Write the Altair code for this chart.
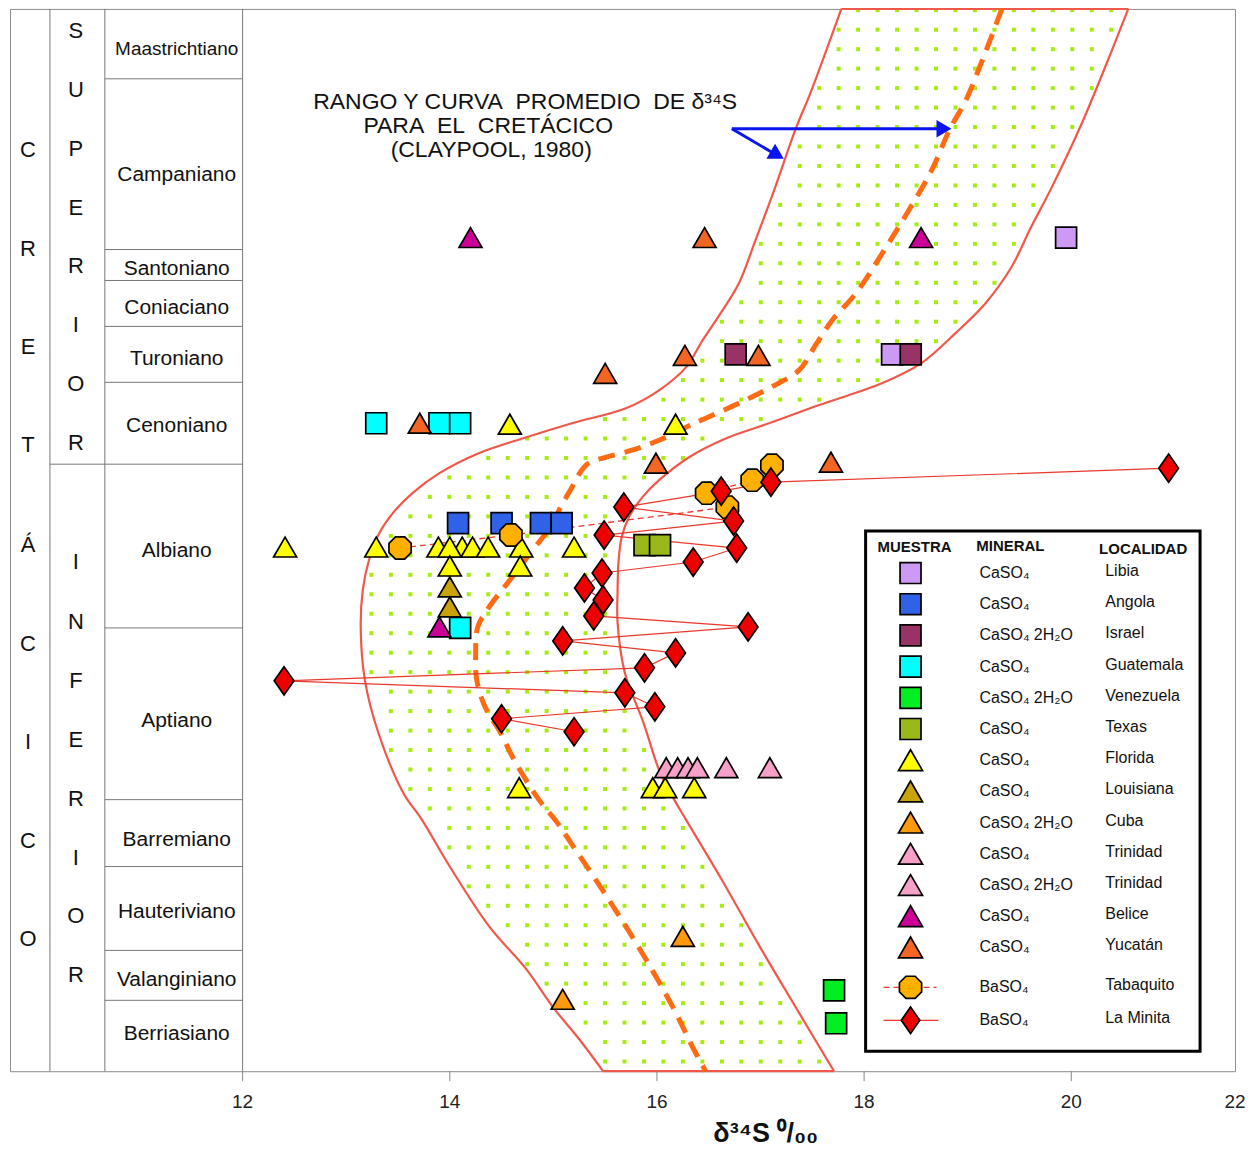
import altair as alt
import numpy as np
import pandas as pd

# ---------------- data ----------------
# stratigraphic column (pos = height in the column, 0 = base, 1064 = top)
STAGES = ["Maastrichtiano", "Campaniano", "Santoniano", "Coniaciano", "Turoniano",
          "Cenoniano", "Albiano", "Aptiano", "Barremiano", "Hauteriviano",
          "Valanginiano", "Berriasiano"]
STAGE_LABEL_POS = [1024, 898, 803, 764, 713, 646, 521, 351, 232, 159, 91, 37]
STAGE_BOUNDS = [994, 823, 792, 746, 690, 608, 444, 272, 205, 121, 71]
SERIES_BOUND = 608
SYSTEM_LETTERS = list("CRETÁCICO")
SYSTEM_POS = [923, 824, 725, 627, 527, 428, 330, 231, 132]
UPPER_LETTERS = list("SUPERIOR")
UPPER_POS = [1042, 983, 924, 865, 806, 747, 688, 629]
LOWER_LETTERS = list("INFERIOR")
LOWER_POS = [510, 450, 391, 332, 273, 214, 155, 96]

# x-axis tick values (permil)
TICKS = [12, 14, 16, 18, 20, 22]

# Claypool (1980) range and mean curve
BAND_LEFT_X = [17.78, 17.49, 17.34, 17.13, 16.95, 16.79, 16.62, 16.44, 16.28, 16.02,
               15.70, 15.18, 14.74, 14.28, 13.90, 13.64, 13.45, 13.32, 13.22, 13.16,
               13.14, 13.18, 13.31, 13.55, 13.73, 14.00, 14.38, 14.74, 14.99, 15.25, 15.48]
BAND_LEFT_POS = [1064, 982, 944, 882, 832, 789, 760, 732, 705, 682,
                 664, 649, 635, 619, 599, 579, 559, 539, 512, 482,
                 445, 392, 339, 279, 252, 205, 145, 102, 65, 32, 0]
BAND_RIGHT_X = [20.55, 20.39, 20.10, 19.81, 19.61, 19.42, 19.17, 18.88, 18.55, 18.17,
                17.85, 17.56, 17.11, 16.67, 16.31, 16.02, 15.86, 15.73, 15.66, 15.63,
                15.62, 15.62, 15.69, 15.87, 16.03, 16.15, 16.28, 16.63, 16.98, 17.34, 17.71]
BAND_RIGHT_POS = [1064, 1022, 949, 885, 845, 805, 769, 739, 709, 689,
                  677, 667, 650, 634, 615, 592, 575, 555, 535, 512,
                  482, 449, 399, 349, 299, 275, 252, 191, 127, 64, 0]
MEAN_X = [19.33, 19.15, 18.98, 18.83, 18.65, 18.43, 18.21, 17.92, 17.69, 17.53,
          17.37, 17.08, 16.79, 16.47, 16.28, 16.02, 15.76, 15.51, 15.34, 15.26,
          15.18, 15.08, 14.97, 14.80, 14.58, 14.38, 14.27, 14.25, 14.26, 14.34,
          14.49, 14.62, 14.86, 15.03, 15.18, 15.44, 15.70, 15.95, 16.18, 16.34, 16.47]
MEAN_POS = [1064, 1015, 972, 944, 902, 862, 825, 779, 752, 727,
            702, 684, 669, 654, 645, 632, 622, 615, 609, 600,
            585, 567, 545, 522, 492, 465, 445, 419, 392, 365,
            339, 312, 272, 250, 227, 187, 145, 102, 59, 25, 0]

# samples (delta34S permil, stratigraphic position)
LIBIA_X, LIBIA_POS = [18.27, 19.95], [718, 835]
ANGOLA_X, ANGOLA_POS = [14.08, 14.50, 14.88, 15.08], [549, 549, 549, 549]
ISRAEL_X, ISRAEL_POS = [16.76, 18.45], [718, 718]
GUATEMALA_X, GUATEMALA_POS = [13.29, 13.90, 14.10, 14.10], [649, 649, 649, 444]
VENEZUELA_X, VENEZUELA_POS = [17.71, 17.73], [81, 48]
TEXAS_X, TEXAS_POS = [15.88, 16.03], [527, 527]
FLORIDA_X = [14.58, 16.18, 12.41, 13.29, 13.89, 14.12, 14.22, 14.37, 14.69, 15.20,
             14.00, 14.00, 14.68, 14.67, 15.96, 16.08, 16.36]
FLORIDA_POS = [648, 648, 525, 525, 525, 525, 525, 525, 525, 525,
               525, 506, 506, 284, 284, 284, 284]
LOUISIANA_X, LOUISIANA_POS = [14.00, 14.00], [485, 465]
CUBA_X, CUBA_POS = [16.25, 15.09], [135, 72]
TRINIDAD1_X, TRINIDAD1_POS = [16.09, 16.20, 16.30, 16.39], [304, 304, 304, 304]
TRINIDAD2_X, TRINIDAD2_POS = [16.67, 17.09], [304, 304]
BELICE_X, BELICE_POS = [14.20, 18.55, 13.90], [835, 835, 445]
YUCATAN_X = [16.46, 15.50, 16.27, 16.98, 13.71, 15.99, 17.68]
YUCATAN_POS = [835, 699, 717, 717, 649, 609, 610]
TABAQUITO_X = [13.52, 14.59, 16.68, 16.48, 16.92, 17.11]
TABAQUITO_POS = [524, 537, 565, 579, 592, 607]
MINITA_X = [20.94, 17.10, 16.62, 15.68, 16.74, 15.49, 16.77, 16.35, 15.47, 15.30,
            15.48, 15.39, 16.88, 15.09, 16.18, 15.88, 12.40, 15.69, 15.98, 14.50, 15.20]
MINITA_POS = [604, 590, 581, 565, 551, 537, 524, 510, 499, 484,
              472, 456, 445, 431, 419, 404, 391, 379, 365, 353, 340]

KEYS = ["Libia", "Angola", "Israel", "Guatemala", "Venezuela", "Texas", "Florida",
        "Louisiana", "Cuba", "Trinidad1", "Trinidad2", "Belice", "Yucatán",
        "Tabaquito", "La Minita"]
MINERALS = ["CaSO₄", "CaSO₄", "CaSO₄ 2H₂O", "CaSO₄", "CaSO₄ 2H₂O", "CaSO₄", "CaSO₄",
            "CaSO₄", "CaSO₄ 2H₂O", "CaSO₄", "CaSO₄ 2H₂O", "CaSO₄", "CaSO₄", "BaSO₄", "BaSO₄"]
LOCALIDADES = ["Libia", "Angola", "Israel", "Guatemala", "Venezuela", "Texas", "Florida",
               "Louisiana", "Cuba", "Trinidad", "Trinidad", "Belice", "Yucatán",
               "Tabaquito", "La Minita"]

# ---------------- styles / layout ----------------
COLORS = ["#cc99f5", "#3062e8", "#993366", "#00ffff", "#00ee22", "#99b81a", "#ffff00",
          "#c9a20c", "#ff9a10", "#f7a0c8", "#f7a0c8", "#cc0099", "#f26522",
          "#ffb000", "#ee0000"]
SQUARE_KEYS = KEYS[:6]
TRI_KEYS = KEYS[6:13]
OCT = ("M0.383,-0.924L0.924,-0.383L0.924,0.383L0.383,0.924L-0.383,0.924"
       "L-0.924,0.383L-0.924,-0.383L-0.383,-0.924Z")
DIAM = "M0,-1L0.7,0L0,1L-0.7,0Z"
FONT = "Liberation Sans, Arial, sans-serif"
RED_BAND = "#f0584a"
RED_LINE = "#e8382c"
BLUE = "#0a14ee"

PX = 103.75            # pixels per permil
X_MIN = 12 - 233 / PX
X_MAX = 12 + 994 / PX
W, H = 1227, 1064


def ux(px):
    return 12 + (px - 243) / PX


def upos(py):
    return 1072 - py


XS = alt.Scale(domain=[X_MIN, X_MAX], nice=False, zero=False)
YS = alt.Scale(domain=[0, H], nice=False, zero=False)


def X(f="x"):
    return alt.X(f"{f}:Q", scale=XS, axis=None)


def Y(f="pos"):
    return alt.Y(f"{f}:Q", scale=YS, axis=None)


FILL = alt.Fill("key:N", scale=alt.Scale(domain=KEYS, range=COLORS), legend=None)

# ---------------- tables ----------------
series = [("Libia", LIBIA_X, LIBIA_POS), ("Angola", ANGOLA_X, ANGOLA_POS),
          ("Israel", ISRAEL_X, ISRAEL_POS), ("Guatemala", GUATEMALA_X, GUATEMALA_POS),
          ("Venezuela", VENEZUELA_X, VENEZUELA_POS), ("Texas", TEXAS_X, TEXAS_POS),
          ("Florida", FLORIDA_X, FLORIDA_POS), ("Louisiana", LOUISIANA_X, LOUISIANA_POS),
          ("Cuba", CUBA_X, CUBA_POS), ("Trinidad1", TRINIDAD1_X, TRINIDAD1_POS),
          ("Trinidad2", TRINIDAD2_X, TRINIDAD2_POS), ("Belice", BELICE_X, BELICE_POS),
          ("Yucatán", YUCATAN_X, YUCATAN_POS)]
rows = []
for k, xs, ps in series:
    for xv, pv in zip(xs, ps):
        rows.append({"key": k, "x": xv, "pos": pv})
pts = pd.DataFrame(rows)
sq_df = pts[pts.key.isin(SQUARE_KEYS)]
tri_df = pts[pts.key.isin(TRI_KEYS)]
tab_df = pd.DataFrame({"key": "Tabaquito", "x": TABAQUITO_X, "pos": TABAQUITO_POS})
min_df = pd.DataFrame({"key": "La Minita", "x": MINITA_X, "pos": MINITA_POS})

band_df = pd.DataFrame({
    "x": BAND_LEFT_X + BAND_RIGHT_X,
    "pos": BAND_LEFT_POS + BAND_RIGHT_POS,
    "side": ["L"] * len(BAND_LEFT_X) + ["R"] * len(BAND_RIGHT_X),
    "i": list(range(len(BAND_LEFT_X))) + list(range(len(BAND_RIGHT_X))),
})
edge_df = pd.DataFrame({"x": [BAND_LEFT_X[0], BAND_LEFT_X[-1]],
                        "x2": [BAND_RIGHT_X[0], BAND_RIGHT_X[-1]],
                        "pos": [BAND_LEFT_POS[0], BAND_LEFT_POS[-1]]})
mean_df = pd.DataFrame({"x": MEAN_X, "pos": MEAN_POS, "i": range(len(MEAN_X))})

# dotted texture inside the band
lp = np.array(BAND_LEFT_POS[::-1], float)
lx = np.array(BAND_LEFT_X[::-1], float)
rp = np.array(BAND_RIGHT_POS[::-1], float)
rx = np.array(BAND_RIGHT_X[::-1], float)
gx = ux(450) + (19.5 / PX) * np.arange(-6, 40)
gp = upos(9.3) - 19.5 * np.arange(0, 55)
GX, GP = np.meshgrid(gx, gp)
GX, GP = GX.ravel(), GP.ravel()
m = 4.5 / PX
mask = (GX > np.interp(GP, lp, lx) + m) & (GX < np.interp(GP, rp, rx) - m) & (GP > 3)
dots_df = pd.DataFrame({"x": GX[mask], "pos": GP[mask]})

# ---------------- layers ----------------
# x-axis drawn from marks: tick rules + labels + title
tick_df = pd.DataFrame({"v": TICKS, "lab": [str(t) for t in TICKS]})
tick_df["xp"] = tick_df["v"].clip(upper=X_MAX)
axis_ticks = alt.Chart(tick_df[tick_df.v < 22]).mark_rule(color="#888", strokeWidth=1).encode(
    x=X("xp"), y=alt.value(H), y2=alt.value(H + 10))
axis_labels = alt.Chart(tick_df).mark_text(
    font="Liberation Sans Narrow, Liberation Sans, Arial", fontSize=19,
    baseline="middle", align="center", color="#222").encode(
    x=X("xp"), y=alt.value(H + 31), text="lab:N")
title_df = pd.DataFrame({"t": ["δ³⁴S ⁰/₀₀"], "x": [ux(767)]})
axis_title = alt.Chart(title_df).mark_text(
    font=FONT, fontSize=27, fontWeight="bold", baseline="alphabetic",
    align="center", color="#111").encode(
    x=X(), y=alt.value(H + 71), text="t:N")

dots = alt.Chart(dots_df).mark_square(size=16, color="#a6ec10", opacity=1).encode(
    x=X(), y=Y())

# stratigraphic column lines
vlines = pd.DataFrame({"x": [ux(50), ux(105), 12.0]})
col_v = alt.Chart(vlines).mark_rule(color="#777", strokeWidth=1).encode(
    x=X(), y=alt.value(0), y2=alt.value(H))
hl = pd.DataFrame({"x": [ux(105)] * len(STAGE_BOUNDS), "x2": 12.0, "pos": STAGE_BOUNDS})
hl.loc[hl.pos == SERIES_BOUND, "x"] = ux(50)
col_h = alt.Chart(hl).mark_rule(color="#777", strokeWidth=1).encode(
    x=X(), x2="x2:Q", y=Y())

band_lines = alt.Chart(band_df).mark_line(
    color=RED_BAND, strokeWidth=2.2, interpolate="catmull-rom").encode(
    x=X(), y=Y(), detail="side:N", order="i:Q")
band_edges = alt.Chart(edge_df).mark_rule(color=RED_BAND, strokeWidth=2.2).encode(
    x=X(), x2="x2:Q", y=Y())
mean_line = alt.Chart(mean_df).mark_line(
    color="#ff6a13", strokeWidth=5, strokeDash=[17, 10], interpolate="catmull-rom").encode(
    x=X(), y=Y(), order="i:Q")

tab_line = alt.Chart(tab_df).mark_line(color=RED_LINE, strokeWidth=1.3, strokeDash=[6, 4]).encode(
    x=X(), y=Y(), order="pos:Q")
min_line = alt.Chart(min_df).mark_line(color=RED_LINE, strokeWidth=1.2).encode(
    x=X(), y=Y(), order="pos:Q")


def sym(df, shape, size):
    return alt.Chart(df).mark_point(shape=shape, size=size, filled=True, opacity=1,
                                    stroke="black", strokeWidth=1.7).encode(
        x=X(), y=Y(), fill=FILL)


squares = sym(sq_df, "square", 441)
triangles = sym(tri_df, "triangle-up", 530)
octs = sym(tab_df, OCT, 580)
diams = sym(min_df, DIAM, 800)

# annotation
ann_df = pd.DataFrame({
    "t": ["RANGO Y CURVA\u00a0 PROMEDIO\u00a0 DE δ³⁴S", "PARA\u00a0 EL\u00a0 CRETÁCICO",
          "(CLAYPOOL, 1980)"],
    "x": [ux(526), ux(489), ux(492)], "pos": [upos(101), upos(125), upos(149)]})
ann = alt.Chart(ann_df).mark_text(font=FONT, fontSize=23, align="center",
                                  baseline="middle", color="#111").encode(
    x=X(), y=Y(), text="t:N")
arr_df = pd.DataFrame({"x": [ux(733), ux(733)], "x2": [ux(942), ux(779)],
                       "pos": [upos(128), upos(128)], "pos2": [upos(128), upos(155)]})
arrows = alt.Chart(arr_df).mark_rule(color=BLUE, strokeWidth=3).encode(
    x=X(), x2="x2:Q", y=Y(), y2="pos2:Q")
head_df = pd.DataFrame({"x": [ux(945.5), ux(778.5)], "pos": [upos(128), upos(154.2)],
                        "ang": [90, 120]})
heads = alt.Chart(head_df).mark_point(shape="triangle-up", size=300, filled=True,
                                      opacity=1, color=BLUE).encode(
    x=X(), y=Y(), angle=alt.Angle("ang:Q", scale=None))

# legend
row_pos = [499 - 31.25 * i for i in range(13)] + [84, 51]
leg_df = pd.DataFrame({"key": KEYS, "min": MINERALS, "loc": LOCALIDADES,
                       "pos": row_pos, "x": ux(912), "xm": ux(981), "xl": ux(1107)})
box_df = pd.DataFrame({"x": [ux(867)], "x2": [ux(1202)], "pos": [upos(531)], "pos2": [upos(1052)]})
leg_box = alt.Chart(box_df).mark_rect(fill="white", stroke="black", strokeWidth=3).encode(
    x=X(), x2="x2:Q", y=Y(), y2="pos2:Q")
hdr_df = pd.DataFrame({"t": ["MUESTRA", "MINERAL", "LOCALIDAD"],
                       "x": [ux(916), ux(1012), ux(1145)], "pos": [525, 526, 523]})
leg_hdr = alt.Chart(hdr_df).mark_text(font=FONT, fontSize=15, fontWeight="bold",
                                      align="center", baseline="middle", color="#111").encode(
    x=X(), y=Y(), text="t:N")
ll_df = pd.DataFrame({"x": [ux(885), ux(885)], "x2": [ux(938), ux(940)], "pos": [84, 51],
                      "kind": ["dash", "solid"]})
leg_l1 = alt.Chart(ll_df[ll_df.kind == "dash"]).mark_rule(
    color=RED_LINE, strokeWidth=1.3, strokeDash=[6, 4]).encode(x=X(), x2="x2:Q", y=Y())
leg_l2 = alt.Chart(ll_df[ll_df.kind == "solid"]).mark_rule(
    color=RED_LINE, strokeWidth=1.3).encode(x=X(), x2="x2:Q", y=Y())
leg_sq = sym(leg_df[leg_df.key.isin(SQUARE_KEYS)], "square", 441)
leg_tri = sym(leg_df[leg_df.key.isin(TRI_KEYS)], "triangle-up", 580)
leg_oct = sym(leg_df[leg_df.key == "Tabaquito"], OCT, 580)
leg_dia = sym(leg_df[leg_df.key == "La Minita"], DIAM, 700)
leg_min = alt.Chart(leg_df).mark_text(font=FONT, fontSize=16, align="left",
                                      baseline="middle", color="#111").encode(
    x=X("xm"), y=Y(), text="min:N")
leg_loc = alt.Chart(leg_df).mark_text(font=FONT, fontSize=16, align="left",
                                      baseline="middle", color="#111", dy=-2).encode(
    x=X("xl"), y=Y(), text="loc:N")

# column texts
st_df = pd.DataFrame({"t": STAGES, "pos": STAGE_LABEL_POS, "x": ux(177)})
st_df["fs"] = [19 if s == "Maastrichtiano" else 21 for s in STAGES]
stage_txt = alt.Chart(st_df).mark_text(font=FONT, align="center", baseline="middle",
                                       color="#111").encode(
    x=X(), y=Y(), text="t:N", size=alt.Size("fs:Q", scale=None))
let_df = pd.DataFrame({
    "t": SYSTEM_LETTERS + UPPER_LETTERS + LOWER_LETTERS,
    "pos": SYSTEM_POS + UPPER_POS + LOWER_POS,
    "x": [ux(28)] * len(SYSTEM_LETTERS) + [ux(76)] * (len(UPPER_LETTERS) + len(LOWER_LETTERS))})
let_txt = alt.Chart(let_df).mark_text(font=FONT, fontSize=22, align="center",
                                      baseline="middle", color="#111").encode(
    x=X(), y=Y(), text="t:N")

chart = alt.layer(
    dots, col_v, col_h, band_lines, band_edges, mean_line, tab_line, min_line,
    squares, triangles, octs, diams, ann, arrows, heads,
    leg_box, leg_hdr, leg_l1, leg_l2, leg_sq, leg_tri, leg_oct, leg_dia, leg_min, leg_loc,
    stage_txt, let_txt, axis_ticks, axis_labels, axis_title
).properties(
    width=W, height=H,
    padding={"left": 2, "top": 0, "right": 10, "bottom": 80},
    background="white",
    autosize=alt.AutoSizeParams(type="none"),
).configure_view(stroke="#8c8c8c", strokeWidth=1)

chart.save("out.html", embed_options={"renderer": "svg", "actions": False})
